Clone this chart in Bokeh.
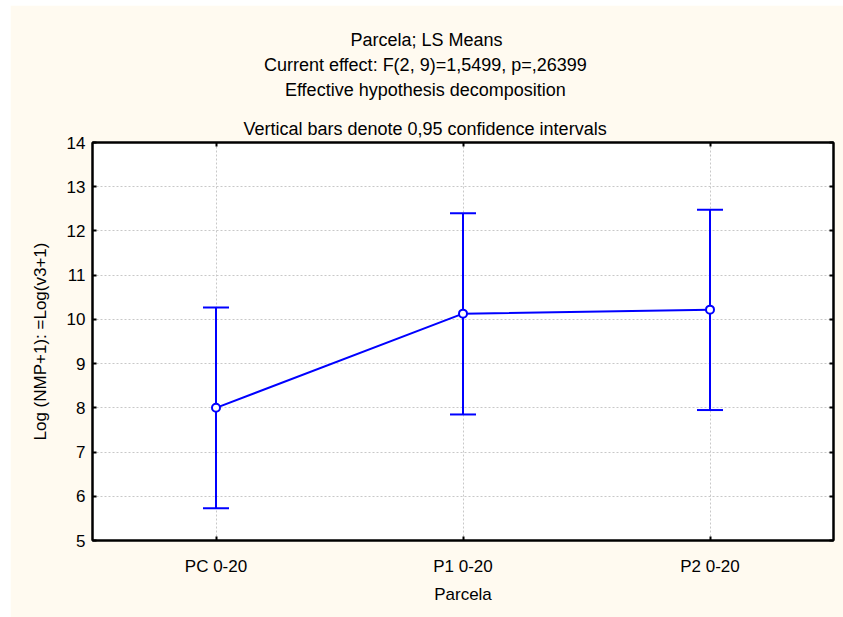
from bokeh.plotting import figure
from bokeh.models import (Title, CategoricalAxis, LinearAxis, Range1d, FactorRange,
                          Whisker, TeeHead, ColumnDataSource, FixedTicker)
from bokeh.embed import file_html
from bokeh.resources import INLINE

categories = ["PC 0-20", "P1 0-20", "P2 0-20"]
means = [8.00, 10.13, 10.22]
lower = [5.73, 7.85, 7.95]
upper = [10.27, 12.40, 12.48]
y_ticks = [5, 6, 7, 8, 9, 10, 11, 12, 13, 14]

title_lines = [
    "Parcela; LS Means",
    "Current effect: F(2, 9)=1,5499, p=,26399",
    "Effective hypothesis decomposition",
    "Vertical bars denote 0,95 confidence intervals",
]
x_label = "Parcela"
y_label = "Log (NMP+1): =Log(v3+1)"

FONT = "Liberation Sans"
CREAM = "#FFFAF0"
BLUE = "#0000FF"
W, H = 833, 612
LEFT, RIGHT, TOP, BOTTOM = 82, 10, 137, 77
TITLE_SIZE = 18
TITLE_CENTER = 415  # horizontal centre of the title block, in canvas pixels

# Arial / Liberation Sans advance widths (1/1000 em), used to centre the titles on the canvas
ADV = {" ": 278, "(": 333, ")": 333, ",": 278, ".": 278, ";": 278, ":": 278, "=": 584,
       "-": 333, "P": 667, "L": 556, "M": 833, "C": 722, "F": 611, "E": 667, "V": 667,
       "b": 556, "c": 500, "d": 556, "e": 556, "f": 278, "h": 556, "i": 222, "l": 222,
       "m": 833, "n": 556, "o": 556, "p": 556, "r": 333, "s": 500, "t": 278, "u": 556,
       "v": 500, "y": 500, "a": 556}


def text_width(s, size):
    return sum(ADV.get(ch, 556) for ch in s) / 1000.0 * size


def title_offset(s):
    return TITLE_CENTER - text_width(s, TITLE_SIZE) / 2 - LEFT


p = figure(width=W, height=H,
           x_range=FactorRange(*categories, range_padding=0),
           y_range=Range1d(5, 14),
           output_backend="svg", toolbar_location=None,
           min_border_left=LEFT, min_border_right=RIGHT,
           min_border_top=TOP, min_border_bottom=BOTTOM,
           background_fill_color="white", border_fill_color=CREAM,
           outline_line_color="black", outline_line_width=2)
p.margin = (5, 0, 0, 10)

bottom_axis = p.below[0]
left_axis = p.left[0]

# titles (first entry of p.above sits next to the frame, p.title is outermost)
p.title.text = title_lines[0]
p.title.align = "left"
p.title.offset = title_offset(title_lines[0])
p.title.text_font = FONT
p.title.text_font_size = f"{TITLE_SIZE}px"
p.title.text_font_style = "normal"
p.title.text_color = "black"
p.title.standoff = 3

top_axis = CategoricalAxis(major_label_text_color=None,
                           major_tick_in=4, major_tick_out=0, axis_line_width=2,
                           axis_line_color="black", major_tick_line_width=2,
                           major_label_standoff=0)
p.add_layout(top_axis, "above")
for k, line in enumerate([title_lines[3], title_lines[2], title_lines[1]]):
    t = Title(text=line, align="left", offset=title_offset(line), text_font=FONT,
              text_font_size=f"{TITLE_SIZE}px", text_font_style="normal",
              text_color="black", standoff=3)
    if k == 0:
        t.padding = (0, 0, 16, 0)
        t.vertical_align = "top"
    p.add_layout(t, "above")

right_axis = LinearAxis(ticker=FixedTicker(ticks=y_ticks),
                        major_label_overrides={t: "" for t in y_ticks},
                        major_tick_in=4, major_tick_out=0, minor_tick_in=0, minor_tick_out=0,
                        axis_line_width=2, axis_line_color="black", major_tick_line_width=2,
                        major_label_standoff=0)
p.add_layout(right_axis, "right")

# axes
left_axis.ticker = FixedTicker(ticks=y_ticks)
for ax in [bottom_axis, left_axis]:
    ax.major_tick_in = 4
    ax.major_tick_out = 0
    ax.minor_tick_in = 0
    ax.minor_tick_out = 0
    ax.major_tick_line_width = 2
    ax.axis_line_width = 2
    ax.axis_line_color = "black"
    ax.major_label_text_font = FONT
    ax.major_label_text_font_size = "17px"
    ax.major_label_text_color = "black"
    ax.axis_label_text_font = FONT
    ax.axis_label_text_font_size = "17px"
    ax.axis_label_text_font_style = "normal"
    ax.axis_label_text_color = "black"

bottom_axis.axis_label = x_label
bottom_axis.major_label_standoff = 16
bottom_axis.axis_label_standoff = 6
left_axis.axis_label = y_label
left_axis.major_label_standoff = 7
left_axis.axis_label_standoff = 14

# grid
p.xgrid.grid_line_color = "#c8c8c8"
p.xgrid.grid_line_dash = "2 2"
p.ygrid.grid_line_color = "#c8c8c8"
p.ygrid.grid_line_dash = "2 2"
p.ygrid.ticker = FixedTicker(ticks=y_ticks)

src = ColumnDataSource(data=dict(cat=categories, mean=means, lower=lower, upper=upper))

whisk = Whisker(base="cat", upper="upper", lower="lower", source=src,
                line_color=BLUE, line_width=2,
                upper_head=TeeHead(size=26, line_color=BLUE, line_width=2),
                lower_head=TeeHead(size=26, line_color=BLUE, line_width=2))
p.add_layout(whisk)

p.line(x="cat", y="mean", source=src, line_color=BLUE, line_width=2)
p.scatter(x="cat", y="mean", source=src, marker="circle", size=8,
          fill_color="white", line_color=BLUE, line_width=2)

open("out.html", "w").write(file_html(p, INLINE))
